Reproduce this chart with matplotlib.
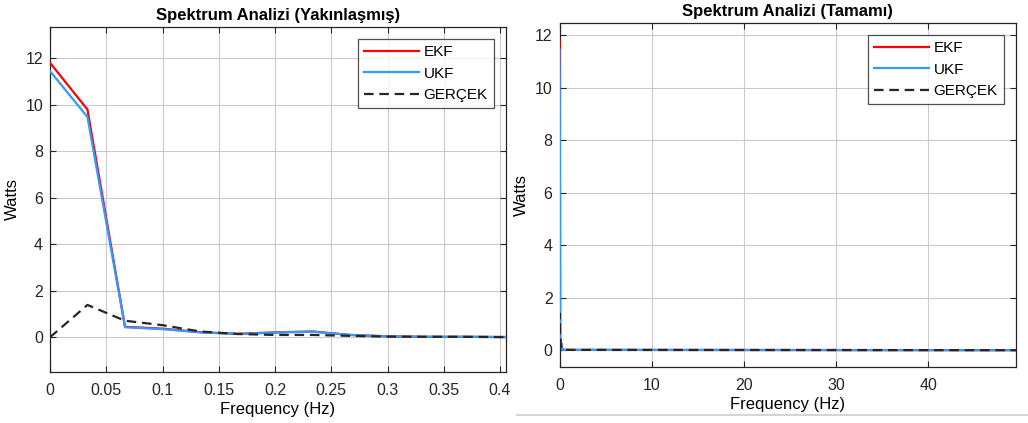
import matplotlib
matplotlib.use("Agg")
import matplotlib.pyplot as plt
from matplotlib.lines import Line2D

# Data
freq = [0.0, 0.0333, 0.0667, 0.1, 0.1333, 0.1667, 0.2, 0.2333, 0.2667, 0.3,
        0.3333, 0.3667, 0.4, 0.4333, 49.5]
ekf = [11.80, 9.79, 0.45, 0.37, 0.22, 0.15, 0.21, 0.25, 0.10, 0.04,
       0.02, 0.02, 0.01, 0.01, 0.0]
ukf = [11.44, 9.47, 0.43, 0.35, 0.21, 0.14, 0.20, 0.24, 0.10, 0.04,
       0.02, 0.02, 0.01, 0.01, 0.0]
gercek = [0.0, 1.39, 0.71, 0.52, 0.25, 0.14, 0.10, 0.10, 0.06, 0.03,
          0.02, 0.02, 0.01, 0.01, 0.0]

titles = ["Spektrum Analizi (Yakınlaşmış)", "Spektrum Analizi (Tamamı)"]
labels = ["EKF", "UKF", "GERÇEK"]
left_xticks = [0, 0.05, 0.1, 0.15, 0.2, 0.25, 0.3, 0.35, 0.4]
left_xticklabels = ["0", "0.05", "0.1", "0.15", "0.2", "0.25", "0.3", "0.35", "0.4"]
right_xticks = [0, 10, 20, 30, 40]
yticks = [0, 2, 4, 6, 8, 10, 12]

plt.rcParams['font.family'] = ['Liberation Sans', 'DejaVu Sans']

W, H = 1028, 423
fig = plt.figure(figsize=(W / 100, H / 100), dpi=100)

def px_axes(x0, y0, x1, y1):
    return fig.add_axes([x0 / W, 1 - y1 / H, (x1 - x0) / W, (y1 - y0) / H])

ax1 = px_axes(50, 26.7, 506, 371.7)
ax2 = px_axes(559.5, 22.7, 1016, 366.7)

red = '#FF0000'
blue = '#2F9BFF'

for ax, title in zip([ax1, ax2], titles):
    ax.plot(freq, ekf, color=red, lw=1.6, label=labels[0], zorder=3)
    ax.plot(freq, ukf, color=blue, lw=1.6, label=labels[1], zorder=3)
    l, = ax.plot(freq, gercek, color='#262626', lw=1.6, label=labels[2], zorder=3)
    l.set_dashes((4.3, 2.6))
    ax.set_title(title, fontsize=12, fontweight='bold', pad=5)
    ax.set_xlabel("Frequency (Hz)", fontsize=12, labelpad=3)
    ax.set_ylabel("Watts", fontsize=12, labelpad=4)
    ax.grid(True, color='#cbcbcb', lw=0.8)
    ax.set_axisbelow(True)
    ax.tick_params(direction='in', length=4, width=0.8, labelsize=11.5,
                   top=True, right=True, colors='#262626', pad=5)
    ax.tick_params(axis='x', pad=8)
    for s in ax.spines.values():
        s.set_color('#262626')
        s.set_linewidth(0.9)
    ax.set_yticks(yticks)
    ax.set_yticklabels([str(v) for v in yticks])
    leg = ax.legend(loc='upper right', fontsize=11, frameon=True, fancybox=False,
                    edgecolor='#262626', handlelength=3.6, handletextpad=0.3,
                    borderpad=0.4, labelspacing=0.5, borderaxespad=0.8)
    leg.get_frame().set_linewidth(0.9)

ax1.set_xlim(0, 0.4053)
ax1.set_ylim(-1.48, 13.35)
ax1.set_xticks(left_xticks)
ax1.set_xticklabels(left_xticklabels)

ax2.set_xlim(0, 49.5)
ax2.set_ylim(-0.63, 12.47)
ax2.set_xticks(right_xticks)
ax2.set_xticklabels([str(v) for v in right_xticks])

# thin separator line under the right panel
fig.add_artist(Line2D([517 / W, 1.0], [1 - 415 / H, 1 - 415 / H],
                      color='#cccccc', lw=1.2, transform=fig.transFigure))

fig.savefig("out.png", dpi=100)
